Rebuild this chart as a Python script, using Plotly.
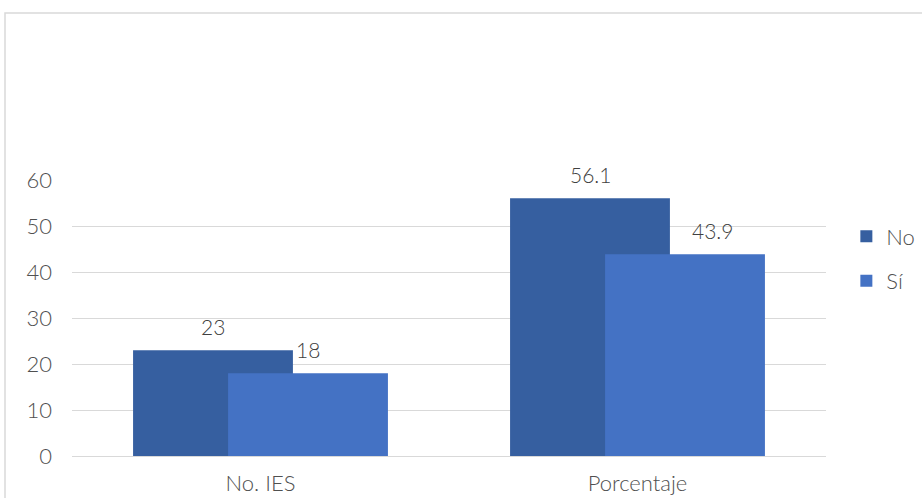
import plotly.graph_objects as go

categories = ["No. IES", "Porcentaje"]
series_names = ["No", "Sí"]
values_no = [23, 56.1]
values_si = [18, 43.9]
label_no = ["23", "56.1"]
label_si = ["18", "43.9"]
y_ticks = [0, 10, 20, 30, 40, 50, 60]

colors = ["#365FA0", "#4472C4"]
bar_width = 0.424
offsets = [-0.338, -0.086]
# horizontal nudges of the data labels (style only), per series per category
label_xshift = [[0, 0], [0, 27]]
font_family = "Lato, 'Open Sans', sans-serif"
text_color = "#505050"

fig = go.Figure()
for name, vals, col, off in zip(series_names, [values_no, values_si], colors, offsets):
    fig.add_trace(go.Bar(
        x=categories, y=vals, name=name, marker=dict(color=col, line=dict(width=0)),
        width=bar_width, offset=off, legendgroup=name,
    ))

annotations = []
for labels, vals, off, shifts in zip([label_no, label_si], [values_no, values_si], offsets, label_xshift):
    for i, (lab, v) in enumerate(zip(labels, vals)):
        annotations.append(dict(
            x=i + off + bar_width / 2, y=v, xref="x", yref="y", text=lab,
            showarrow=False, yanchor="bottom", yshift=9, xshift=shifts[i],
            font=dict(size=21, color="#404040", family=font_family, weight=300),
        ))

fig.update_layout(
    width=922, height=498,
    barmode="overlay",
    paper_bgcolor="white", plot_bgcolor="white",
    margin=dict(l=72, r=96, t=180, b=42, autoexpand=False),
    font=dict(family=font_family, size=22, color=text_color, weight=300),
    showlegend=True,
    legend=dict(x=1.027, y=0.714, xanchor="left", yanchor="middle",
                font=dict(size=22, color=text_color, weight=300), tracegroupgap=13,
                itemwidth=30, bgcolor="rgba(0,0,0,0)"),
    annotations=annotations,
    shapes=[dict(type="rect", xref="paper", yref="paper",
                 x0=(5 - 72) / 754, x1=(930 - 72) / 754,
                 y0=(456 - 510) / 276, y1=(456 - 13) / 276,
                 line=dict(color="#D9D9D9", width=1.5), fillcolor="rgba(0,0,0,0)",
                 layer="below")],
)
fig.update_xaxes(type="category", range=[-0.5, 1.5], showgrid=False, showline=False,
                 ticks="", ticklabelstandoff=12, automargin=False,
                 tickfont=dict(size=22, color=text_color, weight=300))
fig.update_yaxes(range=[0, 60.05], tickvals=y_ticks, showgrid=True, gridcolor="#D9D9D9",
                 gridwidth=1, zeroline=True, zerolinecolor="#D9D9D9", zerolinewidth=1,
                 showline=False, ticks="", ticklabelstandoff=19, automargin=False,
                 tickfont=dict(size=22, color=text_color, weight=300))

fig.write_html("out.html", config={"displayModeBar": False},
               post_script="document.body.style.margin='0';")
